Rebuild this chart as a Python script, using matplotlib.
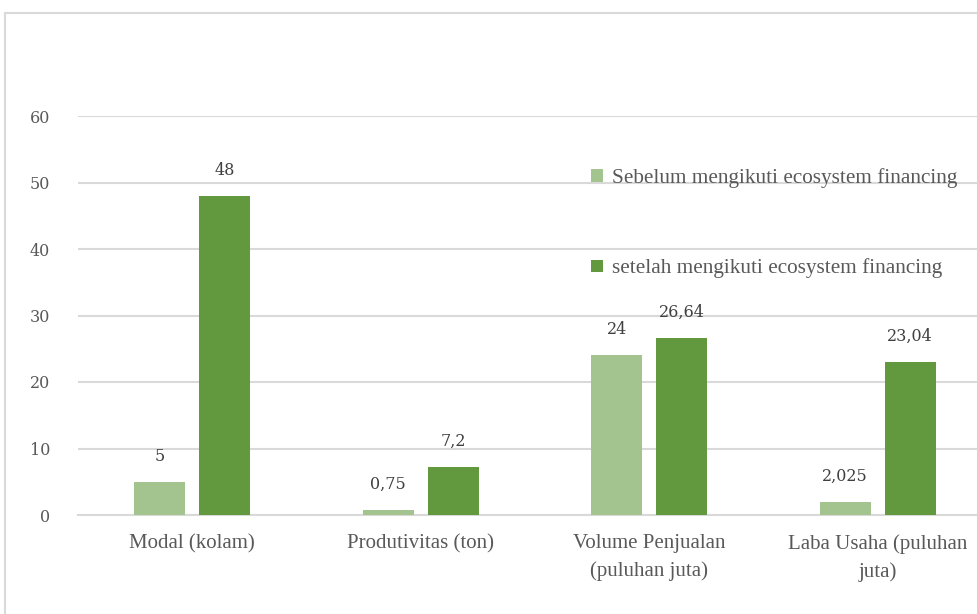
import matplotlib
matplotlib.use("Agg")
import matplotlib.pyplot as plt
from matplotlib.patches import Rectangle
import numpy as np

categories = ["Modal (kolam)", "Produtivitas (ton)", "Volume Penjualan\n(puluhan juta)", "Laba Usaha (puluhan\njuta)"]
sebelum = [5, 0.75, 24, 2.025]
setelah = [48, 7.2, 26.64, 23.04]
sebelum_labels = ["5", "0,75", "24", "2,025"]
setelah_labels = ["48", "7,2", "26,64", "23,04"]
series_names = ["Sebelum mengikuti ecosystem financing", "setelah mengikuti ecosystem financing"]
yticks = [0, 10, 20, 30, 40, 50, 60]

c_light = "#A3C48F"
c_dark = "#62993E"
grid_c = "#D9D9D9"
txt_c = "#595959"
NUMF = "DejaVu Serif"
TXTF = "Liberation Serif"

W, H = 978, 614
fig = plt.figure(figsize=(W / 100, H / 100), dpi=100)
fig.patch.set_facecolor("white")

# outer chart border
fig.patches.append(Rectangle((5 / W, -0.1), 1.2, 1 - 13 / H + 0.1, transform=fig.transFigure,
                             fill=False, edgecolor=grid_c, linewidth=1.5))

ax = fig.add_axes([78 / W, 1 - 515 / H, 914 / W, (515 - 116) / H])
x = np.arange(len(categories))
bw = 0.223
off = 0.142
ax.bar(x - off, sebelum, bw, color=c_light, label=series_names[0], zorder=3)
ax.bar(x + off, setelah, bw, color=c_dark, label=series_names[1], zorder=3)

for xi, v, lab in zip(x - off, sebelum, sebelum_labels):
    ax.annotate(lab, (xi, v), xytext=(0, 18.5), textcoords="offset points", ha="center", va="center",
                fontsize=11.5, color="#404040", family=NUMF)
for xi, v, lab in zip(x + off, setelah, setelah_labels):
    ax.annotate(lab, (xi, v), xytext=(0, 18.5), textcoords="offset points", ha="center", va="center",
                fontsize=11.5, color="#404040", family=NUMF)

ax.set_xlim(-0.5, 3.5)
ax.set_ylim(0, 60)
ax.set_yticks(yticks)
ax.set_yticklabels([str(t) for t in yticks], family=NUMF, fontsize=11.5, color=txt_c)
ax.set_xticks(x)
ax.set_xticklabels(categories, family=TXTF, fontsize=15, color=txt_c, linespacing=1.55, va="top")
ax.tick_params(axis="y", length=0, pad=20)
ax.tick_params(axis="x", length=0, pad=14)
ax.grid(axis="y", color=grid_c, linewidth=1.5, zorder=0)
for s in ["top", "right", "left"]:
    ax.spines[s].set_visible(False)
ax.spines["bottom"].set_color(grid_c)
ax.spines["bottom"].set_linewidth(1.5)
ax.spines["bottom"].set_zorder(2)

leg = ax.legend(loc="upper left", bbox_to_anchor=(505 / 914, 1 - (160 - 116) / 399), frameon=False,
                prop={"family": TXTF, "size": 15.3}, labelspacing=3.3,
                handlelength=0.55, handleheight=0.55, handletextpad=0.4, borderaxespad=0)
for t in leg.get_texts():
    t.set_color(txt_c)

fig.savefig("out.png", dpi=100, facecolor="white")
